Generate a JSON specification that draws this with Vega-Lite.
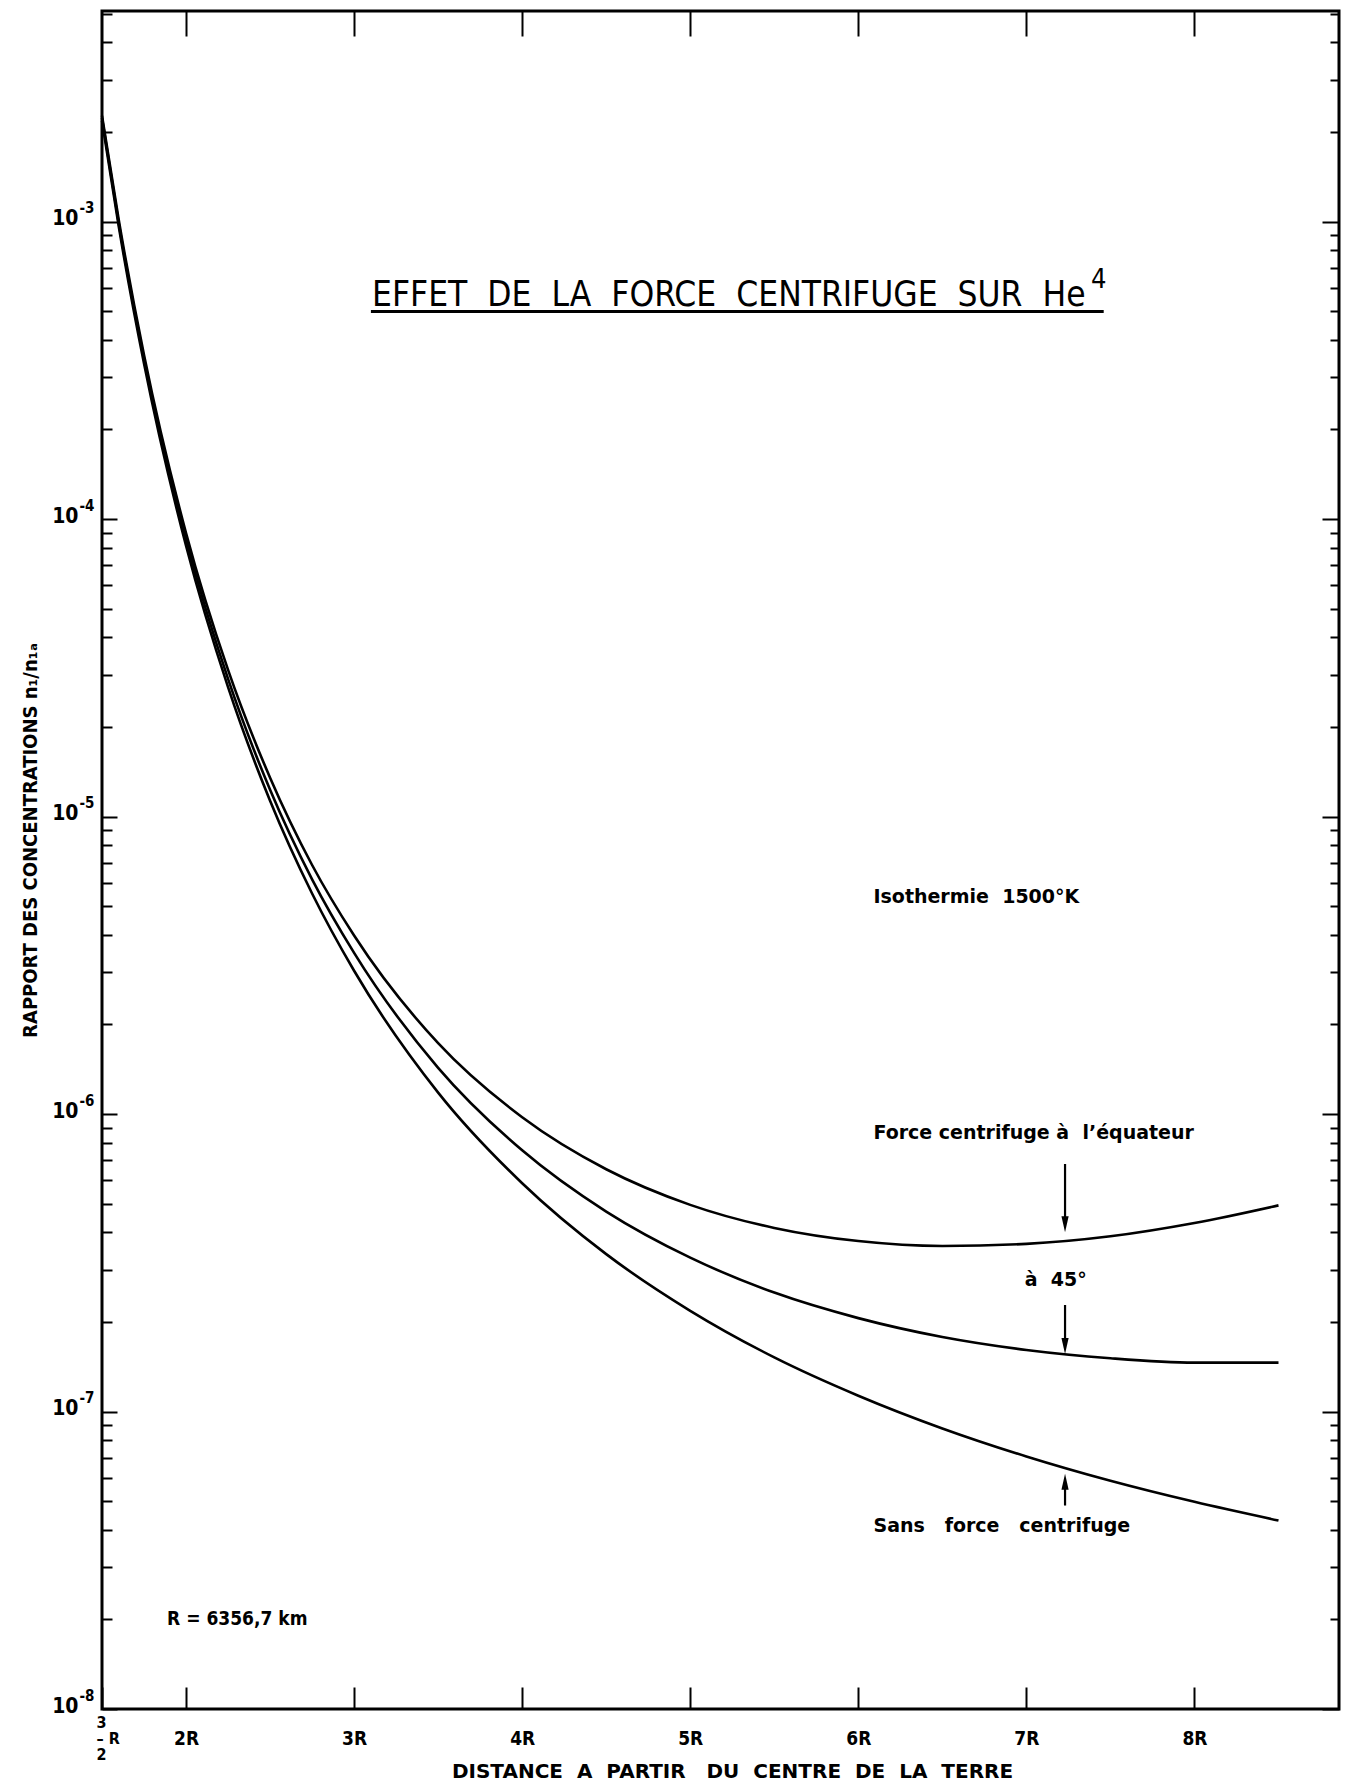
{
  "$schema": "https://vega.github.io/schema/vega-lite/v6.json",
  "width": 1237,
  "height": 1698,
  "autosize": {"type": "none"},
  "padding": {"left": 102, "top": 11, "right": 13, "bottom": 76},
  "background": "white",
  "config": {
    "view": {"stroke": "black", "strokeWidth": 3},
    "axis": {
      "domain": false, "grid": false, "tickColor": "black", "tickWidth": 2,
      "labelColor": "black", "titleColor": "black",
      "labelFont": "DejaVu Sans Condensed", "labelFontWeight": "bold", "labelFontSize": 19,
      "titleFont": "DejaVu Sans Condensed", "titleFontWeight": "bold", "titleFontSize": 19,
      "labelOverlap": false, "labelFlush": false, "labelBound": false
    }
  },
  "datasets": {
    "curves": [
      {"r": 1.5, "n": 0.00227, "s": "eq"}, {"r": 1.6, "n": 0.00101, "s": "eq"}, {"r": 1.75, "n": 0.000356, "s": "eq"},
      {"r": 2, "n": 8.97e-5, "s": "eq"}, {"r": 2.25, "n": 3.11e-5, "s": "eq"}, {"r": 2.5, "n": 1.35e-5, "s": "eq"},
      {"r": 2.75, "n": 6.87e-6, "s": "eq"}, {"r": 3, "n": 3.98e-6, "s": "eq"}, {"r": 3.5, "n": 1.73e-6, "s": "eq"},
      {"r": 4, "n": 9.75e-7, "s": "eq"}, {"r": 4.5, "n": 6.52e-7, "s": "eq"}, {"r": 5, "n": 4.95e-7, "s": "eq"},
      {"r": 5.5, "n": 4.14e-7, "s": "eq"}, {"r": 6, "n": 3.74e-7, "s": "eq"}, {"r": 6.5, "n": 3.6e-7, "s": "eq"},
      {"r": 7, "n": 3.66e-7, "s": "eq"}, {"r": 7.5, "n": 3.88e-7, "s": "eq"}, {"r": 8, "n": 4.3e-7, "s": "eq"},
      {"r": 8.5, "n": 4.93e-7, "s": "eq"},
      {"r": 1.5, "n": 0.00223, "s": "45"}, {"r": 1.6, "n": 0.000984, "s": "45"}, {"r": 1.75, "n": 0.000345, "s": "45"},
      {"r": 2, "n": 8.55e-5, "s": "45"}, {"r": 2.25, "n": 2.9e-5, "s": "45"}, {"r": 2.5, "n": 1.23e-5, "s": "45"},
      {"r": 2.75, "n": 6.15e-6, "s": "45"}, {"r": 3, "n": 3.48e-6, "s": "45"}, {"r": 3.5, "n": 1.43e-6, "s": "45"},
      {"r": 4, "n": 7.55e-7, "s": "45"}, {"r": 4.5, "n": 4.7e-7, "s": "45"}, {"r": 5, "n": 3.29e-7, "s": "45"},
      {"r": 5.5, "n": 2.51e-7, "s": "45"}, {"r": 6, "n": 2.06e-7, "s": "45"}, {"r": 6.5, "n": 1.78e-7, "s": "45"},
      {"r": 7, "n": 1.61e-7, "s": "45"}, {"r": 7.5, "n": 1.51e-7, "s": "45"}, {"r": 8, "n": 1.46e-7, "s": "45"},
      {"r": 8.5, "n": 1.46e-7, "s": "45"},
      {"r": 1.5, "n": 0.00218, "s": "sans"}, {"r": 1.6, "n": 0.000959, "s": "sans"}, {"r": 1.75, "n": 0.000333, "s": "sans"},
      {"r": 2, "n": 8.13e-5, "s": "sans"}, {"r": 2.25, "n": 2.72e-5, "s": "sans"}, {"r": 2.5, "n": 1.13e-5, "s": "sans"},
      {"r": 2.75, "n": 5.51e-6, "s": "sans"}, {"r": 3, "n": 3.03e-6, "s": "sans"}, {"r": 3.5, "n": 1.18e-6, "s": "sans"},
      {"r": 4, "n": 5.85e-7, "s": "sans"}, {"r": 4.5, "n": 3.38e-7, "s": "sans"}, {"r": 5, "n": 2.18e-7, "s": "sans"},
      {"r": 5.5, "n": 1.52e-7, "s": "sans"}, {"r": 6, "n": 1.13e-7, "s": "sans"}, {"r": 6.5, "n": 8.77e-8, "s": "sans"},
      {"r": 7, "n": 7.06e-8, "s": "sans"}, {"r": 7.5, "n": 5.85e-8, "s": "sans"}, {"r": 8, "n": 4.97e-8, "s": "sans"},
      {"r": 8.5, "n": 4.3e-8, "s": "sans"}
    ],
    "notes": [
      {"r": 6.09, "n": 5.13e-6, "t": "Isothermie\u00a0\u00a01500°K"},
      {"r": 6.09, "n": 8.24e-7, "t": "Force\u00a0centrifuge\u00a0à\u00a0\u00a0l’équateur"},
      {"r": 6.99, "n": 2.64e-7, "t": "à\u00a0\u00a045°"},
      {"r": 6.09, "n": 3.94e-8, "t": "Sans\u00a0\u00a0\u00a0force\u00a0\u00a0\u00a0centrifuge"}
    ],
    "rnote": [{"r": 1.887, "n": 1.92e-8, "t": "R = 6356,7 km"}],
    "arrows": [
      {"r": 7.23, "n1": 6.79e-7, "n2": 4.47e-7},
      {"r": 7.23, "n1": 2.28e-7, "n2": 1.73e-7},
      {"r": 7.23, "n1": 4.83e-8, "n2": 5.55e-8}
    ],
    "heads": [
      {"r": 7.23, "n": 4.26e-7, "dir": "down"},
      {"r": 7.23, "n": 1.66e-7, "dir": "down"},
      {"r": 7.23, "n": 5.81e-8, "dir": "up"}
    ],
    "title": [{"r": 3.107, "n": 0.000521, "t": "EFFET\u00a0\u00a0DE\u00a0\u00a0LA\u00a0\u00a0FORCE\u00a0\u00a0CENTRIFUGE\u00a0\u00a0SUR\u00a0\u00a0He"}],
    "sup": [{"r": 7.385, "n": 0.0006, "t": "4"}],
    "underline": [{"r1": 3.1, "r2": 7.46, "n": 0.000498}]
  },
  "layer": [
    {
      "data": {"name": "curves"},
      "mark": {"type": "line", "color": "black", "strokeWidth": 2.6, "interpolate": "monotone"},
      "encoding": {
        "x": {"field": "r", "type": "quantitative", "scale": {"domain": [1.5, 8.86], "nice": false, "zero": false},
          "axis": {"orient": "bottom", "values": [1.5, 2, 3, 4, 5, 6, 7, 8], "tickSize": -22,
            "labelBaseline": "middle", "labelLineHeight": 16,
            "labelPadding": {"condition": {"test": "datum.value == 1.5", "value": 35}, "value": 51},
            "labelFontSize": {"condition": {"test": "datum.value == 1.5", "value": 16}, "value": 19},
            "labelAlign": {"condition": {"test": "datum.value == 1.5", "value": "left"}, "value": "center"},
            "labelOffset": {"condition": {"test": "datum.value == 1.5", "value": -6}, "value": 0},
            "labelExpr": "datum.value == 1.5 ? ['3', '–\u00a0R', '2'] : datum.value + 'R'",
            "title": "DISTANCE\u00a0\u00a0A\u00a0\u00a0PARTIR\u00a0\u00a0\u00a0DU\u00a0\u00a0CENTRE\u00a0\u00a0DE\u00a0\u00a0LA\u00a0\u00a0TERRE",
            "titleFont": "DejaVu Sans", "titleFontSize": 20, "titleX": 630, "titleY": 62,
            "titleBaseline": "middle", "titleAlign": "center"}},
        "y": {"field": "n", "type": "quantitative", "scale": {"type": "log", "domain": [1e-8, 0.0051], "nice": false},
          "axis": {"orient": "left", "values": [1e-8, 1e-7, 1e-6, 1e-5, 1e-4, 1e-3], "tickSize": -15,
            "labelPadding": 39, "labelBaseline": "middle", "labelAlign": "right", "labelFontSize": 21, "labelOffset": -3,
            "labelExpr": "'10'",
            "title": "RAPPORT DES CONCENTRATIONS  n₁/n₁ₐ", "titleAngle": -90, "titleX": -72, "titleY": 829,
            "titleAlign": "center", "titleBaseline": "middle", "titleFontSize": 20}},
        "detail": {"field": "s"}
      }
    },
    {
      "data": {"name": "notes"},
      "mark": {"type": "text", "align": "left", "baseline": "alphabetic", "font": "DejaVu Sans", "fontWeight": "bold", "fontSize": 19, "color": "black"},
      "encoding": {
        "x": {"field": "r", "type": "quantitative", "scale": {"domain": [1.5, 8.86], "nice": false, "zero": false},
          "axis": {"orient": "top", "values": [2, 3, 4, 5, 6, 7, 8], "tickSize": -25, "labels": false, "title": null}},
        "y": {"field": "n", "type": "quantitative", "scale": {"type": "log", "domain": [1e-8, 0.0051], "nice": false},
          "axis": {"orient": "left", "values": [2e-8,3e-8,4e-8,5e-8,6e-8,7e-8,8e-8,9e-8,2e-7,3e-7,4e-7,5e-7,6e-7,7e-7,8e-7,9e-7,2e-6,3e-6,4e-6,5e-6,6e-6,7e-6,8e-6,9e-6,2e-5,3e-5,4e-5,5e-5,6e-5,7e-5,8e-5,9e-5,2e-4,3e-4,4e-4,5e-4,6e-4,7e-4,8e-4,9e-4,2e-3,3e-3,4e-3,5e-3],
            "tickSize": -10, "labels": false, "title": null}},
        "text": {"field": "t"}
      }
    },
    {
      "data": {"name": "rnote"},
      "mark": {"type": "text", "align": "left", "baseline": "alphabetic", "font": "DejaVu Sans Condensed", "fontWeight": "bold", "fontSize": 19, "color": "black"},
      "encoding": {
        "x": {"field": "r", "type": "quantitative", "axis": null},
        "y": {"field": "n", "type": "quantitative",
          "axis": {"orient": "left", "values": [1e-8, 1e-7, 1e-6, 1e-5, 1e-4, 1e-3], "ticks": false,
            "labelPadding": 8, "labelBaseline": "middle", "labelAlign": "right", "labelFontSize": 15, "labelOffset": -14,
            "labelExpr": "'-' + (-round(log(datum.value)/LN10))", "title": null}},
        "text": {"field": "t"}
      }
    },
    {
      "data": {"name": "arrows"},
      "mark": {"type": "rule", "color": "black", "strokeWidth": 2.2},
      "encoding": {
        "x": {"field": "r", "type": "quantitative", "axis": null},
        "y": {"field": "n1", "type": "quantitative",
          "axis": {"orient": "right", "values": [1e-8, 1e-7, 1e-6, 1e-5, 1e-4, 1e-3], "tickSize": -17, "labels": false, "title": null}},
        "y2": {"field": "n2"}
      }
    },
    {
      "data": {"name": "heads"},
      "mark": {"type": "point", "filled": true, "color": "black", "opacity": 1, "size": 256},
      "encoding": {
        "x": {"field": "r", "type": "quantitative", "axis": null},
        "y": {"field": "n", "type": "quantitative",
          "axis": {"orient": "right", "values": [2e-8,3e-8,4e-8,5e-8,6e-8,7e-8,8e-8,9e-8,2e-7,3e-7,4e-7,5e-7,6e-7,7e-7,8e-7,9e-7,2e-6,3e-6,4e-6,5e-6,6e-6,7e-6,8e-6,9e-6,2e-5,3e-5,4e-5,5e-5,6e-5,7e-5,8e-5,9e-5,2e-4,3e-4,4e-4,5e-4,6e-4,7e-4,8e-4,9e-4,2e-3,3e-3,4e-3,5e-3],
            "tickSize": -9, "labels": false, "title": null}},
        "shape": {"field": "dir", "type": "nominal", "legend": null,
          "scale": {"domain": ["down", "up"], "range": ["M-0.45,-1L0.45,-1L0,1Z", "M-0.45,1L0.45,1L0,-1Z"]}}
      }
    },
    {
      "data": {"name": "title"},
      "mark": {"type": "text", "align": "left", "baseline": "alphabetic", "font": "DejaVu Sans Condensed", "fontSize": 35, "color": "black"},
      "encoding": {
        "x": {"field": "r", "type": "quantitative", "axis": null},
        "y": {"field": "n", "type": "quantitative", "axis": null},
        "text": {"field": "t"}
      }
    },
    {
      "data": {"name": "sup"},
      "mark": {"type": "text", "align": "left", "baseline": "alphabetic", "font": "DejaVu Sans Condensed", "fontSize": 27, "color": "black"},
      "encoding": {
        "x": {"field": "r", "type": "quantitative", "axis": null},
        "y": {"field": "n", "type": "quantitative", "axis": null},
        "text": {"field": "t"}
      }
    },
    {
      "data": {"name": "underline"},
      "mark": {"type": "rule", "color": "black", "strokeWidth": 3},
      "encoding": {
        "x": {"field": "r1", "type": "quantitative", "axis": null},
        "x2": {"field": "r2"},
        "y": {"field": "n", "type": "quantitative", "axis": null}
      }
    }
  ],
  "resolve": {"axis": {"x": "independent", "y": "independent"}}
}
